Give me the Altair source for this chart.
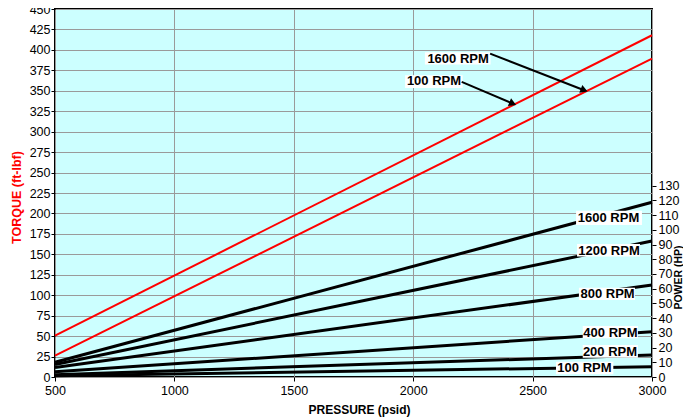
import math
import altair as alt
import pandas as pd

FONT = "Liberation Sans"

# ---------------- data ----------------
pressure_ends = [500, 3000]

torque_rpm = ["100 RPM", "1600 RPM"]
torque_start = [50.6, 26.1]
torque_end = [417.9, 389.4]

power_rpm = ["100 RPM", "200 RPM", "400 RPM", "800 RPM", "1200 RPM", "1600 RPM"]
power_start = [0.8, 1.6, 3.5, 6.5, 8.5, 10.0]
power_end = [7.0, 15.0, 30.8, 62.5, 92.4, 118.7]

# power line labels (text centre + white box)
plab_text = ["1600 RPM", "1200 RPM", "800 RPM", "400 RPM", "200 RPM", "100 RPM"]
plab_x = [2818, 2820, 2814, 2826, 2824, 2717]
plab_y = [108.3, 85.8, 56.4, 30.1, 17.2, 6.1]
pbox_x1 = [2682, 2686, 2694, 2710, 2710, 2598]
pbox_x2 = [2958, 2950, 2929, 2941, 2941, 2838]
pbox_y1 = [113.0, 90.4, 60.7, 34.7, 21.7, 10.4]
pbox_y2 = [103.3, 81.8, 52.3, 26.3, 13.1, 1.8]

# torque line labels with arrows
tlab_text = ["1600 RPM", "100 RPM"]
tlab_x = [2188, 2087]
tlab_y = [389.4, 361.7]
tbox_x1 = [2049, 1966]
tbox_x2 = [2324, 2207]
tbox_y1 = [397.0, 369.0]
tbox_y2 = [382.0, 353.5]
arrow_x1 = [2322, 2203]
arrow_y1 = [395.4, 360.8]
arrow_x2 = [2716, 2417]
arrow_y2 = [350.6, 334.3]

x_ticks = [500, 1000, 1500, 2000, 2500, 3000]
torque_ticks = list(range(0, 451, 25))
power_ticks = list(range(0, 131, 10))

W, H = 597, 368
X_DOM = [500, 3000]
T_DOM = [0, 450]
P_DOM = [0, 250]

# ---------------- tables ----------------
torque_df = pd.DataFrame({
    "pressure": pressure_ends * len(torque_rpm),
    "torque": [v for s, e in zip(torque_start, torque_end) for v in (s, e)],
    "rpm": [r for r in torque_rpm for _ in pressure_ends],
})
power_df = pd.DataFrame({
    "pressure": pressure_ends * len(power_rpm),
    "power": [v for s, e in zip(power_start, power_end) for v in (s, e)],
    "rpm": [r for r in power_rpm for _ in pressure_ends],
})
plab_df = pd.DataFrame({"label": plab_text, "pressure": plab_x, "power": plab_y,
                        "x1": pbox_x1, "x2": pbox_x2, "y1": pbox_y1, "y2": pbox_y2})
tlab_df = pd.DataFrame({"label": tlab_text, "pressure": tlab_x, "torque": tlab_y,
                        "x1": tbox_x1, "x2": tbox_x2, "y1": tbox_y1, "y2": tbox_y2})
angles = []
for a, b, c, d in zip(arrow_x1, arrow_y1, arrow_x2, arrow_y2):
    dx = (c - a) * W / (X_DOM[1] - X_DOM[0])
    dy = (b - d) * H / (T_DOM[1] - T_DOM[0])
    angles.append(math.degrees(math.atan2(dy, dx)))
arrow_df = pd.DataFrame({"xa": arrow_x1, "ya": arrow_y1, "xb": arrow_x2, "yb": arrow_y2,
                         "ang": angles})

# ---------------- encodings ----------------
x_axis = alt.Axis(values=x_ticks, format="d", labelFlush=False, labelOverlap=False,
                  title="PRESSURE (psid)", grid=True, gridColor="#9a9a9a",
                  domain=False, tickColor="black", tickSize=4, labelPadding=3,
                  labelFontSize=12.5, labelColor="black", labelFont=FONT,
                  titleFont=FONT, titleFontSize=12, titleFontWeight="bold", titleColor="black",
                  titleX=304, titleY=32, titleBaseline="middle")
x_scale = alt.Scale(domain=X_DOM, nice=False, zero=False)

t_axis = alt.Axis(values=torque_ticks, format="d", labelFlush=False, labelOverlap=False,
                  orient="left", title="TORQUE (ft-lbf)", grid=True,
                  gridColor="#9a9a9a",
                  domain=False, tickColor="black", tickSize=4, labelPadding=1,
                  labelFontSize=12.5, labelColor="black", labelFont=FONT,
                  titleFont=FONT, titleFontSize=12.5, titleFontWeight="bold", titleColor="red",
                  titleAngle=270, titleX=-39, titleY=188, titleAlign="center",
                  titleBaseline="middle")

p_axis = alt.Axis(values=power_ticks, format="d", labelFlush=False, labelOverlap=False,
                  orient="right", title="POWER (HP)", grid=False,
                  domain=False, tickColor="black", tickSize=4, labelPadding=2,
                  labelFontSize=12.5, labelColor="black", labelFont=FONT,
                  titleFont=FONT, titleFontSize=10.5, titleFontWeight="bold", titleColor="black",
                  titleAngle=270, titleX=26, titleY=268, titleAlign="center",
                  titleBaseline="middle")


def TY(field, axis=None):
    return alt.Y(field, scale=alt.Scale(domain=T_DOM, nice=False, zero=True), axis=axis)


def PY(field, axis=None):
    return alt.Y(field, scale=alt.Scale(domain=P_DOM, nice=False, zero=True), axis=axis)


def XS(field):
    # same x scale and axis in every layer so the shared axis merges cleanly
    return alt.X(field, scale=x_scale, axis=x_axis)


t_lines = alt.Chart(torque_df).mark_line(color="#ff0000", strokeWidth=2).encode(
    x=XS("pressure:Q"), y=TY("torque:Q", t_axis), detail="rpm:N")
t_boxes = alt.Chart(tlab_df).mark_rect(fill="white").encode(
    x=XS("x1:Q"), x2="x2:Q", y=TY("y1:Q"), y2="y2:Q")
t_text = alt.Chart(tlab_df).mark_text(font=FONT, fontSize=13, fontWeight="bold",
                                      color="black").encode(
    x=XS("pressure:Q"), y=TY("torque:Q"), text="label:N")
t_arrows = alt.Chart(arrow_df).mark_rule(color="black", strokeWidth=2).encode(
    x=XS("xa:Q"), x2="xb:Q", y=TY("ya:Q"), y2="yb:Q")
t_heads = alt.Chart(arrow_df).mark_point(shape="triangle-right", filled=True, size=70,
                                         color="black", opacity=1).encode(
    x=XS("xb:Q"), y=TY("yb:Q"), angle=alt.Angle("ang:Q", scale=None))

p_lines = alt.Chart(power_df).mark_line(color="black", strokeWidth=3).encode(
    x=XS("pressure:Q"), y=PY("power:Q", p_axis), detail="rpm:N")
p_boxes = alt.Chart(plab_df).mark_rect(fill="white").encode(
    x=XS("x1:Q"), x2="x2:Q", y=PY("y1:Q"), y2="y2:Q")
p_text = alt.Chart(plab_df).mark_text(font=FONT, fontSize=13, fontWeight="bold",
                                      color="black").encode(
    x=XS("pressure:Q"), y=PY("power:Q"), text="label:N")

chart = alt.layer(
    t_lines, p_lines, t_boxes, t_text, t_arrows, t_heads, p_boxes, p_text
).resolve_scale(y="independent").properties(
    width=W, height=H,
    title=alt.TitleParams("ACTUAL TORQUE AND POWER - 14.0 CID", font=FONT, fontSize=14,
                          fontWeight="bold", color="black", offset=3),
    autosize=alt.AutoSizeParams(type="none"),
    padding={"left": 47, "top": 1, "right": 31, "bottom": 40},
    background="white",
).configure_view(fill="#ccffff", stroke="black", strokeWidth=2)

chart.save("out.html", embed_options={"renderer": "svg", "actions": False})
